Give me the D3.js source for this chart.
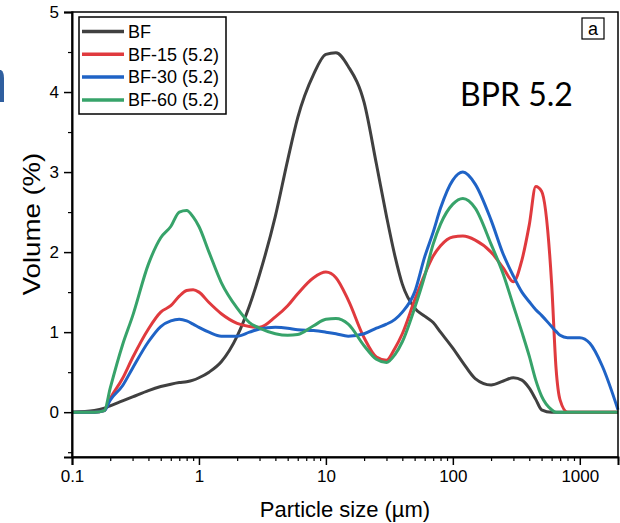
<!DOCTYPE html>
<html>
<head>
<meta charset="utf-8">
<script src="https://cdn.jsdelivr.net/npm/d3@7"></script>
<style>
  html, body { margin: 0; padding: 0; background: #fff; }
  svg { display: block; font-family: "Liberation Sans", Arial, sans-serif; }
</style>
</head>
<body>
<div id="chart"></div>
<script>
// particle size grid (µm) and volume (%) per sample
const sizes = [0.1, 0.15, 0.18, 0.2, 0.25, 0.3, 0.4, 0.5, 0.6, 0.7, 0.8, 0.9, 1, 1.2, 1.5, 2, 2.5, 3, 4, 5, 6, 8, 10, 12, 15, 20, 25, 30, 35, 40, 50, 60, 70, 80, 100, 120, 150, 200, 250, 300, 350, 400, 450, 500, 600, 650, 700, 800, 1000, 1200, 1500, 2000];

const bf    = [0, 0.02, 0.05, 0.08, 0.14, 0.19, 0.27, 0.32, 0.35, 0.37, 0.38, 0.4, 0.43, 0.5, 0.63, 0.95, 1.33, 1.72, 2.45, 3.15, 3.68, 4.22, 4.47, 4.49, 4.32, 3.87, 3.1, 2.45, 1.95, 1.6, 1.3, 1.2, 1.12, 1.0, 0.8, 0.62, 0.42, 0.34, 0.39, 0.43, 0.4, 0.3, 0.16, 0.03, 0, 0, 0, 0, 0, 0, 0, 0];
const bf15  = [0, 0, 0.02, 0.17, 0.42, 0.68, 1.04, 1.25, 1.33, 1.45, 1.52, 1.53, 1.5, 1.37, 1.23, 1.11, 1.07, 1.06, 1.19, 1.33, 1.48, 1.68, 1.75, 1.68, 1.4, 0.93, 0.69, 0.65, 0.8, 0.98, 1.4, 1.72, 1.95, 2.08, 2.19, 2.2, 2.15, 2.0, 1.8, 1.63, 1.9, 2.34, 2.82, 2.76, 1.61, 0.55, 0.15, 0, 0, 0, 0, 0];
const bf30  = [0, 0, 0.02, 0.15, 0.33, 0.55, 0.88, 1.07, 1.14, 1.16, 1.14, 1.1, 1.06, 1.0, 0.95, 0.95, 1.0, 1.04, 1.06, 1.05, 1.03, 1.02, 1.0, 0.98, 0.95, 0.98, 1.05, 1.1, 1.16, 1.25, 1.5, 1.94, 2.25, 2.55, 2.9, 3.0, 2.85, 2.4, 1.97, 1.7, 1.5, 1.38, 1.28, 1.21, 1.07, 1.01, 0.96, 0.93, 0.93, 0.86, 0.58, 0.03];
const bf60  = [0, 0, 0.02, 0.3, 0.84, 1.2, 1.85, 2.18, 2.32, 2.5, 2.52, 2.44, 2.32, 2.0, 1.62, 1.3, 1.12, 1.05, 0.98, 0.96, 0.97, 1.08, 1.16, 1.17, 1.1, 0.83, 0.66, 0.62, 0.72, 0.88, 1.3, 1.7, 2.1, 2.35, 2.6, 2.67, 2.55, 2.1, 1.72, 1.33, 1.0, 0.7, 0.4, 0.2, 0.03, 0, 0, 0, 0, 0, 0, 0];

const seriesNames = ['BF', 'BF-15 (5.2)', 'BF-30 (5.2)', 'BF-60 (5.2)'];
const seriesValues = [bf, bf15, bf30, bf60];
const seriesColors = ['#404040', '#e03a3e', '#1f63c6', '#37a36a'];

const xTicks = [0.1, 1, 10, 100, 1000];
const yTicks = [0, 1, 2, 3, 4, 5];

const W = 620, H = 523;
const svg = d3.select('#chart').append('svg').attr('width', W).attr('height', H);

const x = d3.scaleLog().domain([0.1, 2000]).range([72, 618]);
const y = d3.scaleLinear().domain([-0.56, 5]).range([457, 12]);

// leftover fragment of the neighbouring panel
svg.append('path')
  .attr('d', 'M0,70 L1,70 Q4,72 4,78 L4,102 L0,102 Z')
  .attr('fill', '#2f5f9f');

// lines
const line = d3.line()
  .x((d, i) => x(sizes[i]))
  .y(d => y(d))
  .curve(d3.curveMonotoneX);

seriesValues.forEach((vals, k) => {
  svg.append('path')
    .datum(vals)
    .attr('d', line)
    .attr('fill', 'none')
    .attr('stroke', seriesColors[k])
    .attr('stroke-width', 3)
    .attr('stroke-linejoin', 'round');
});

// frame
svg.append('rect')
  .attr('x', 72).attr('y', 12)
  .attr('width', 546).attr('height', 445)
  .attr('fill', 'none').attr('stroke', '#000').attr('stroke-width', 1.5);

// x axis
const xMinor = [];
[0.1, 1, 10, 100, 1000].forEach(dec => {
  for (let m = 2; m <= 9; m++) if (dec * m <= 2000) xMinor.push(dec * m);
});
const xAxis = svg.append('g').attr('transform', 'translate(0,457)');
xAxis.append('g')
  .call(d3.axisBottom(x).tickValues(xTicks).tickSize(8).tickFormat(d => String(d)))
  .call(g => g.select('.domain').attr('stroke-width', 2))
  .call(g => g.selectAll('.tick line').attr('stroke-width', 1.5))
  .call(g => g.selectAll('.tick text').attr('font-size', 17).attr('dy', '0.85em').attr('font-family', null));
xAxis.append('g')
  .call(d3.axisBottom(x).tickValues(xMinor).tickSize(4).tickFormat(''))
  .call(g => g.select('.domain').remove())
  .call(g => g.selectAll('.tick line').attr('stroke-width', 1.2));

// y axis
const yMinor = [-0.5, 0.5, 1.5, 2.5, 3.5, 4.5];
const yAxis = svg.append('g').attr('transform', 'translate(72,0)');
yAxis.append('g')
  .call(d3.axisLeft(y).tickValues(yTicks).tickSize(8).tickFormat(d3.format('d')))
  .call(g => g.select('.domain').attr('stroke-width', 2))
  .call(g => g.selectAll('.tick line').attr('stroke-width', 1.5))
  .call(g => g.selectAll('.tick text').attr('font-size', 17).attr('x', -13).attr('font-family', null));
yAxis.append('g')
  .call(d3.axisLeft(y).tickValues(yMinor).tickSize(4).tickFormat(''))
  .call(g => g.select('.domain').remove())
  .call(g => g.selectAll('.tick line').attr('stroke-width', 1.2));

// axis titles
svg.append('text')
  .attr('x', 345).attr('y', 517)
  .attr('text-anchor', 'middle').attr('font-size', 22)
  .text('Particle size (µm)');
// the source picture is stretched vertically, so the rotated title runs longer
svg.append('text')
  .attr('transform', 'translate(40,224) rotate(-90) scale(1.2,1)')
  .attr('text-anchor', 'middle').attr('font-size', 23)
  .text('Volume (%)');

// legend
const legend = svg.append('g');
legend.append('rect')
  .attr('x', 79).attr('y', 17).attr('width', 147).attr('height', 97)
  .attr('fill', '#fff').attr('stroke', '#000').attr('stroke-width', 1.5);
seriesNames.forEach((name, k) => {
  const ly = 31.5 + k * 22.8;
  legend.append('line')
    .attr('x1', 82).attr('x2', 124).attr('y1', ly).attr('y2', ly)
    .attr('stroke', seriesColors[k]).attr('stroke-width', 3.5);
  legend.append('text')
    .attr('x', 128).attr('y', ly).attr('dy', '0.35em')
    .attr('font-size', 18).text(name);
});

// panel label
svg.append('rect')
  .attr('x', 582).attr('y', 18).attr('width', 22).attr('height', 21)
  .attr('fill', '#fff').attr('stroke', '#000').attr('stroke-width', 1.2);
svg.append('text')
  .attr('x', 593).attr('y', 29).attr('dy', '0.35em')
  .attr('text-anchor', 'middle').attr('font-size', 18).text('a');

svg.append('text')
  .attr('x', 460).attr('y', 106)
  .attr('font-family', 'Lato, "Open Sans", sans-serif')
  .attr('font-size', 32).text('BPR 5.2');
</script>
</body>
</html>
